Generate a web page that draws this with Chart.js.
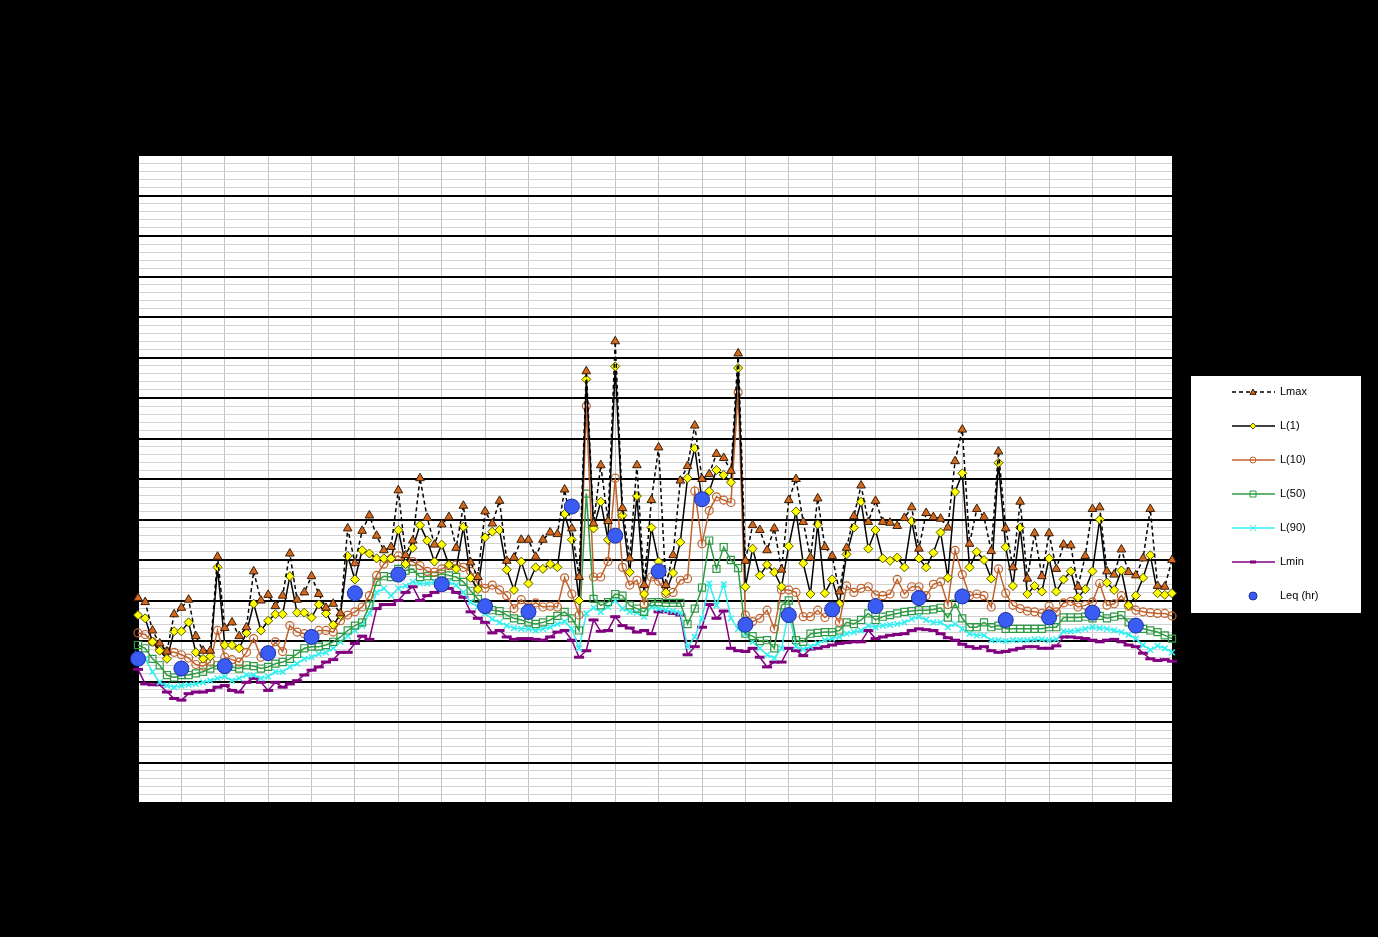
<!DOCTYPE html>
<html>
<head>
<meta charset="utf-8">
<script src="https://cdn.jsdelivr.net/npm/chart.js@4.4.1/dist/chart.umd.min.js"></script>
<style>
  html, body { margin: 0; padding: 0; background: #000; }
  #wrap { width: 1378px; height: 937px; }
</style>
</head>
<body>
<div id="wrap"><canvas id="noise" width="1378" height="937"></canvas></div>
<script>
// hour tick labels, 10-minute intervals in between
const hours = ['0:00','1:00','2:00','3:00','4:00','5:00','6:00','7:00','8:00','9:00','10:00','11:00',
  '12:00','13:00','14:00','15:00','16:00','17:00','18:00','19:00','20:00','21:00','22:00','23:00']
const minutes = ['00','10','20','30','40','50']
const times = hours.flatMap(h => minutes.map(m => h.split(':')[0] + ':' + m))

const lmax = [45.3,44.8,41.3,39.7,38.7,43.3,44.1,45.1,40.6,38.8,38.8,50.4,41.6,42.3,40.6,41.7,48.6,45.0,45.7,44.3,
  45.6,50.8,45.1,46.0,48.0,45.8,44.1,44.6,43.4,53.9,49.6,53.6,55.5,53.0,51.2,51.6,58.6,50.6,52.4,60.1,
  55.2,51.9,54.4,55.3,51.5,56.7,49.7,47.9,56.0,54.5,57.3,49.9,50.3,52.5,52.5,50.4,52.5,53.4,53.2,58.7,
  53.9,47.9,73.3,54.5,61.7,54.8,77.0,56.4,50.2,61.7,46.9,57.4,63.9,46.9,50.6,59.8,61.6,66.6,60.0,60.6,
  63.1,62.6,61.0,75.5,49.9,54.3,53.7,51.2,53.9,48.8,57.4,60.0,54.7,50.3,57.6,51.6,50.5,46.1,51.5,55.4,
  59.2,54.7,57.3,54.7,54.6,54.2,55.2,56.5,51.4,55.8,55.3,55.1,54.0,62.2,66.1,52.0,56.3,55.3,51.1,63.4,
  53.9,49.1,57.2,47.7,53.3,48.0,53.3,48.9,51.9,51.8,46.7,50.5,56.3,56.5,48.6,48.2,51.3,48.5,48.1,50.2,
  56.3,46.8,46.7,50.0]

const l1 = [43.2,42.8,39.9,38.8,37.8,41.2,41.2,42.3,38.6,37.8,38.1,49.1,39.5,39.5,39.1,41.0,44.6,41.3,42.5,43.3,
  43.3,48.0,43.5,43.5,42.9,44.5,43.4,42.0,43.2,50.5,47.6,51.2,50.8,50.2,50.2,50.2,53.7,49.5,51.5,54.3,
  52.4,49.8,51.9,49.4,48.9,54.1,47.8,46.4,52.8,53.5,53.7,48.8,46.3,49.8,47.1,49.1,48.9,49.5,49.1,55.7,
  52.5,45.0,72.3,53.9,57.2,52.5,73.9,55.5,48.5,57.9,45.8,54.0,49.8,46.0,48.4,52.2,60.1,63.8,57.4,58.5,
  61.1,60.5,59.6,73.7,46.7,51.4,48.1,49.4,48.5,46.7,51.7,56.0,49.6,45.8,54.4,45.9,47.6,44.6,50.7,54.0,
  57.2,51.4,53.7,50.2,49.9,50.3,49.1,54.8,50.2,49.1,50.9,53.4,47.8,58.4,60.7,49.1,51.0,50.0,47.7,62.0,
  51.6,46.8,54.0,45.8,46.8,46.1,50.2,46.1,47.6,48.6,45.4,46.4,48.6,55.0,47.2,46.3,48.7,44.4,45.6,47.8,
  50.6,45.9,45.7,45.9]

const l10 = [41.0,40.8,39.9,39.1,38.7,38.6,38.3,37.9,37.1,36.9,37.4,41.3,38.0,37.7,37.4,38.6,40.3,38.0,38.4,39.9,
  38.7,41.9,41.1,40.9,40.8,41.3,41.3,41.1,42.5,43.2,43.6,44.2,45.6,48.1,49.5,50.2,50.5,49.9,49.8,49.3,
  48.6,48.5,48.9,49.3,49.4,49.1,48.6,47.1,46.5,46.9,46.3,45.6,44.0,45.1,44.2,44.7,44.2,44.3,44.2,47.8,
  45.8,43.2,69.0,47.9,47.9,49.8,60.1,49.1,46.9,47.5,44.6,47.9,47.4,45.8,46.0,47.5,47.7,58.5,52.0,56.1,
  57.8,57.4,57.1,70.7,43.2,42.4,42.8,43.8,41.5,46.3,46.3,46.0,43.0,43.0,43.8,42.9,43.6,42.3,46.8,46.0,
  46.5,46.7,45.7,45.6,45.8,47.6,45.8,46.7,46.7,45.6,47.0,47.3,44.5,51.2,48.2,45.6,45.8,45.6,44.2,48.9,
  45.9,44.4,44.0,43.7,43.6,43.4,44.3,43.6,44.7,44.9,44.2,44.4,44.8,47.1,44.4,44.6,45.6,44.3,43.8,43.6,
  43.5,43.4,43.4,43.1]

const l50 = [39.5,39.1,37.8,37.0,35.8,35.5,35.8,35.8,36.0,36.2,36.6,37.0,37.2,36.8,36.6,37.0,36.9,36.6,36.8,37.2,
  37.4,37.8,38.4,39.1,39.3,39.3,39.5,39.9,40.5,41.3,41.9,42.3,44.4,47.3,48.0,47.9,48.9,48.7,48.9,47.9,
  48.0,48.0,48.3,48.1,47.9,47.3,46.2,45.2,44.4,43.8,43.7,43.2,42.8,42.6,42.3,42.1,42.3,42.6,43.1,43.6,
  42.8,41.3,58.2,45.2,44.4,44.8,45.8,45.6,44.4,44.0,43.6,44.8,44.8,44.7,44.7,44.7,42.1,44.0,46.6,52.4,
  48.9,51.6,50.0,49.0,40.9,40.6,40.0,40.1,39.1,44.4,45.0,40.1,39.9,40.9,41.0,41.1,41.1,41.3,42.3,42.1,
  42.6,43.4,42.6,43.0,43.2,43.4,43.6,43.7,43.8,43.8,43.9,44.1,42.9,44.6,42.8,41.7,41.7,42.3,41.7,41.9,
  41.5,41.5,41.5,41.5,41.5,41.5,41.7,41.7,42.9,42.9,42.9,43.0,42.8,43.1,42.8,43.0,43.2,42.3,41.9,41.5,
  41.3,41.1,40.7,40.3]

const l90 = [38.4,37.8,36.2,34.9,34.5,34.3,34.5,34.6,34.7,34.9,35.1,35.4,35.6,35.1,35.4,35.8,35.8,35.4,35.6,36.2,
  36.2,36.8,37.2,37.8,38.0,38.4,38.6,39.1,39.9,40.6,41.3,41.9,43.4,46.0,46.5,45.6,46.5,46.8,47.3,47.1,
  47.1,47.3,47.5,47.3,46.9,46.0,44.8,44.2,43.4,42.7,42.3,41.9,41.6,41.5,41.5,41.3,41.5,41.7,42.1,42.4,
  41.5,39.1,43.4,44.1,43.6,44.2,45.0,44.0,43.6,43.5,43.0,44.2,44.0,43.8,43.7,43.5,39.3,40.5,42.8,47.1,
  44.4,47.0,42.8,41.5,40.9,39.9,39.1,38.3,37.9,39.1,43.7,39.3,39.0,39.3,39.7,40.1,40.3,40.5,40.9,41.1,
  41.3,41.9,41.7,41.9,42.0,42.1,42.3,42.7,43.0,42.6,42.3,42.3,41.7,42.1,41.5,40.9,40.7,40.7,40.1,40.1,
  40.0,40.1,40.1,40.1,40.2,40.2,40.1,40.2,41.2,41.2,41.3,41.5,41.7,41.6,41.5,41.3,41.1,40.8,40.3,39.5,
  38.9,39.4,39.1,38.6]

const lmin = [36.5,34.7,34.6,34.6,33.7,32.9,32.7,33.5,33.7,33.7,33.9,34.3,34.5,33.9,33.7,34.9,35.4,34.9,33.9,34.9,
  34.3,34.7,35.1,35.8,36.4,36.8,37.4,37.7,38.6,38.6,39.7,40.6,40.2,44.0,44.5,44.5,45.0,46.0,46.7,45.0,
  45.6,46.0,46.4,46.5,46.0,45.4,43.6,42.8,42.3,41.0,41.3,40.5,40.2,40.3,40.3,40.2,40.1,40.5,41.1,41.3,
  40.1,38.0,38.8,42.6,41.2,41.3,43.0,41.9,41.6,41.1,41.3,40.9,43.6,43.6,43.4,43.2,38.3,39.3,41.7,44.5,
  42.8,43.7,39.1,38.8,38.7,39.1,38.0,36.8,37.4,37.4,39.1,38.8,38.2,39.0,39.1,39.3,39.5,39.7,39.8,39.9,
  39.9,41.3,40.3,40.5,40.7,40.8,40.9,41.3,41.5,41.4,41.3,40.9,40.4,40.1,39.6,39.3,39.1,39.3,38.8,38.6,
  38.7,38.9,39.1,39.3,39.3,39.1,39.1,39.4,40.5,40.5,40.4,40.3,40.1,39.9,40.1,40.2,39.9,39.5,39.3,38.5,
  37.8,37.6,37.7,37.5]

// hourly Leq, one value per hour
const leqHourly = [37.8,36.6,36.9,38.5,40.5,45.9,48.2,47.0,44.3,43.6,56.6,53.0,
  48.6,57.5,42.0,43.2,43.9,44.3,45.3,45.5,42.6,42.9,43.5,41.9]
const leqSeries = times.map((t, i) => i % 6 === 0 ? leqHourly[i / 6] : null)

function drawMarker(ctx, style, x, y, r) {
  ctx.beginPath()
  if (style === 'triangle') {
    ctx.moveTo(x, y - r)
    ctx.lineTo(x + r, y + r * 0.8)
    ctx.lineTo(x - r, y + r * 0.8)
    ctx.closePath()
    ctx.fill(); ctx.stroke()
  } else if (style === 'rectRot') {
    ctx.moveTo(x, y - r); ctx.lineTo(x + r, y); ctx.lineTo(x, y + r); ctx.lineTo(x - r, y)
    ctx.closePath(); ctx.fill(); ctx.stroke()
  } else if (style === 'circle') {
    ctx.arc(x, y, r, 0, Math.PI * 2); ctx.fill(); ctx.stroke()
  } else if (style === 'rect') {
    ctx.rect(x - r, y - r, r * 2, r * 2); ctx.fill(); ctx.stroke()
  } else if (style === 'crossRot') {
    ctx.moveTo(x - r, y - r); ctx.lineTo(x + r, y + r)
    ctx.moveTo(x + r, y - r); ctx.lineTo(x - r, y + r); ctx.stroke()
  } else if (style === 'line') {
    ctx.moveTo(x - r, y); ctx.lineTo(x + r, y); ctx.stroke()
  }
}

const plotBackground = {
  id: 'plotBackground',
  beforeDraw(chart) {
    const { ctx, chartArea } = chart
    ctx.save()
    ctx.fillStyle = '#ffffff'
    ctx.fillRect(chartArea.left, chartArea.top, chartArea.right - chartArea.left, chartArea.bottom - chartArea.top)
    ctx.restore()
  }
}

const sideLegend = {
  id: 'sideLegend',
  afterDraw(chart) {
    const ctx = chart.ctx
    ctx.save()
    ctx.fillStyle = '#ffffff'
    ctx.fillRect(1191, 376, 170, 237)
    ctx.font = '11px "Liberation Sans", Arial, sans-serif'
    ctx.textBaseline = 'middle'
    chart.data.datasets.forEach((ds, i) => {
      const y = 392 + i * 34
      if (ds.showLine !== false) {
        ctx.strokeStyle = ds.borderColor
        ctx.lineWidth = 1.5
        ctx.setLineDash(ds.borderDash || [])
        ctx.beginPath(); ctx.moveTo(1232, y); ctx.lineTo(1275, y); ctx.stroke()
        ctx.setLineDash([])
      }
      ctx.fillStyle = ds.pointBackgroundColor
      ctx.strokeStyle = ds.pointBorderColor
      ctx.lineWidth = ds.pointStyle === 'line' ? 3 : 1
      drawMarker(ctx, ds.pointStyle, 1253, y, ds.pointStyle === 'circle' && ds.showLine === false ? 4 : 3)
      ctx.fillStyle = '#000'
      ctx.fillText(ds.label, 1280, y)
    })
    ctx.restore()
  }
}

new Chart(document.getElementById('noise'), {
  type: 'line',
  data: {
    labels: times,
    datasets: [
      { label: 'Lmax', data: lmax, borderColor: '#000000', borderWidth: 1.5, borderDash: [4, 3],
        pointStyle: 'triangle', pointRadius: 5, pointBackgroundColor: '#D2691E', pointBorderColor: '#3b1d05',
        pointBorderWidth: 1, order: 1 },
      { label: 'L(1)', data: l1, borderColor: '#000000', borderWidth: 1.5,
        pointStyle: 'rectRot', pointRadius: 4.5, pointBackgroundColor: '#ffff00', pointBorderColor: '#555500',
        pointBorderWidth: 1, order: 2 },
      { label: 'L(10)', data: l10, borderColor: '#c0622c', borderWidth: 1.5,
        pointStyle: 'circle', pointRadius: 4, pointBackgroundColor: 'rgba(255,255,255,0)', pointBorderColor: '#c0622c',
        pointBorderWidth: 1.2, order: 3 },
      { label: 'L(50)', data: l50, borderColor: '#2f9a44', borderWidth: 1.5,
        pointStyle: 'rect', pointRadius: 5, pointBackgroundColor: 'rgba(255,255,255,0)', pointBorderColor: '#2f9a44',
        pointBorderWidth: 1.2, order: 4 },
      { label: 'L(90)', data: l90, borderColor: '#33f0f0', borderWidth: 1.5,
        pointStyle: 'crossRot', pointRadius: 4, pointBackgroundColor: '#33f0f0', pointBorderColor: '#33f0f0',
        pointBorderWidth: 1.5, order: 5 },
      { label: 'Lmin', data: lmin, borderColor: '#800080', borderWidth: 1.5,
        pointStyle: 'line', pointRadius: 5, pointBackgroundColor: '#800080', pointBorderColor: '#800080',
        pointBorderWidth: 3, order: 6 },
      { label: 'Leq (hr)', data: leqSeries, showLine: false,
        pointStyle: 'circle', pointRadius: 7.5, pointBackgroundColor: '#3a5cf2', pointBorderColor: '#1d2fa0',
        pointBorderWidth: 1, borderColor: '#3a5cf2', order: 0 }
    ]
  },
  options: {
    responsive: false,
    animation: false,
    layout: { padding: { left: 0, top: 155, right: 206, bottom: 0 } },
    elements: { line: { tension: 0 } },
    plugins: {
      legend: { display: false },
      tooltip: { enabled: false }
    },
    scales: {
      x: {
        type: 'category',
        offset: false,
        afterFit: s => { s.height = 134 },
        grid: {
          color: c => (c.index % 6 === 0 ? '#c4c4c4' : 'rgba(0,0,0,0)'),
          lineWidth: 1,
          tickColor: c => (c.index % 6 === 0 ? '#000' : 'rgba(0,0,0,0)'),
          tickLength: 5
        },
        border: { display: true, color: '#000', width: 1 },
        ticks: {
          autoSkip: false, maxRotation: 0, color: '#000',
          font: { family: 'Liberation Sans', size: 12 },
          callback: function (v, i) { return i % 6 === 0 ? this.getLabelForValue(v) : '' }
        }
      },
      y: {
        min: 20, max: 100,
        afterFit: s => { s.width = 138 },
        grid: {
          color: c => (c.tick.value % 5 === 0 ? '#000000' : '#d2d2d2'),
          lineWidth: c => (c.tick.value % 5 === 0 ? 2 : 1),
          tickColor: '#000',
          tickLength: 4
        },
        border: { display: true, color: '#000', width: 1 },
        ticks: {
          stepSize: 1, autoSkip: false, color: '#000',
          font: { family: 'Liberation Sans', size: 12 },
          callback: v => (v % 5 === 0 ? v : '')
        }
      }
    }
  },
  plugins: [plotBackground, sideLegend]
})
</script>
</body>
</html>
